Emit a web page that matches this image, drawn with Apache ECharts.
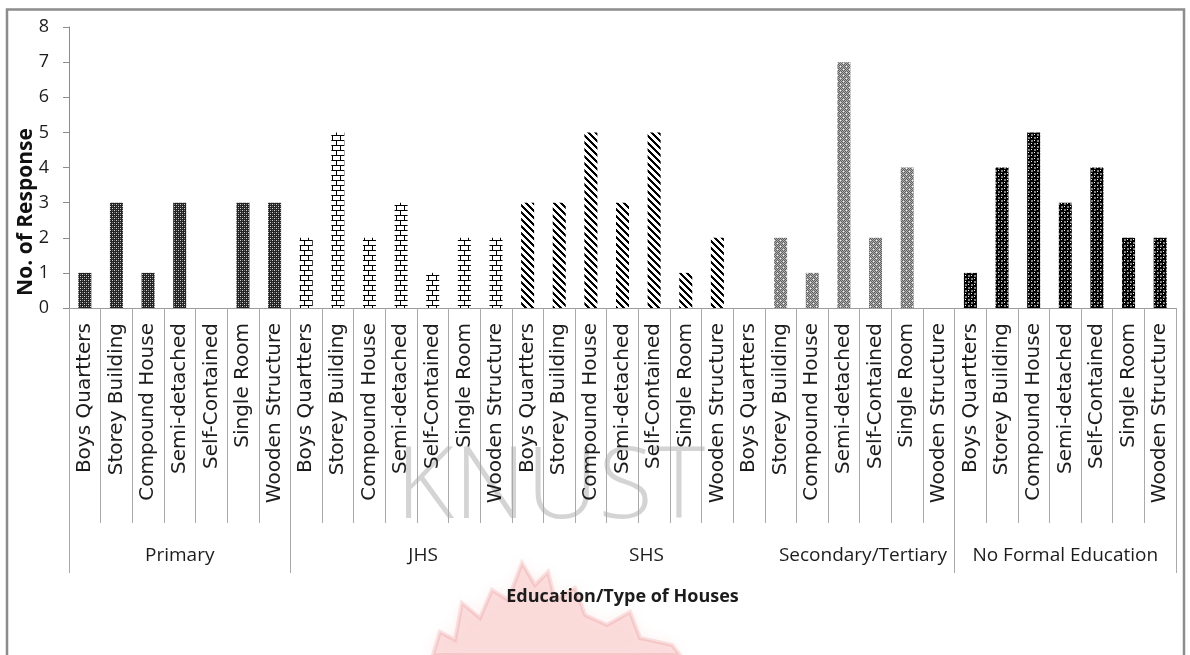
<!DOCTYPE html>
<html>
<head>
<meta charset="utf-8">
<script src="https://cdn.jsdelivr.net/npm/echarts@6/dist/echarts.min.js"></script>
<style>
  html, body { margin: 0; padding: 0; background: #ffffff; }
  #chart { width: 1190px; height: 655px; }
</style>
</head>
<body>
<div id="chart"></div>
<script>
// House types surveyed within each education level
const houseTypes = ['Boys Quartters', 'Storey Building', 'Compound House', 'Semi-detached', 'Self-Contained', 'Single Room', 'Wooden Structure'];
// Education levels (outer category level)
const levels = ['Primary', 'JHS', 'SHS', 'Secondary/Tertiary', 'No Formal Education'];

// Number of responses per house type, one array per education level
const primary     = [1, 3, 1, 3, 0, 3, 3];
const jhs         = [2, 5, 2, 3, 1, 2, 2];
const shs         = [3, 3, 5, 3, 5, 1, 2];
const secTertiary = [0, 2, 1, 7, 2, 4, 0];
const noFormal    = [1, 4, 5, 3, 4, 2, 2];

// Y axis range
const yMin = 0, yMax = 8, yStep = 1;

const groupValues = [primary, jhs, shs, secTertiary, noFormal];

// ---- fill patterns, one per education level ----
function tile(w, h, draw) {
  const c = document.createElement('canvas');
  c.width = w; c.height = h;
  draw(c.getContext('2d'), w, h);
  return c;
}
function pixels(w, h, fn) {
  return tile(w, h, (ctx) => {
    const img = ctx.createImageData(w, h);
    for (let y = 0; y < h; y++) for (let x = 0; x < w; x++) {
      const v = fn(x, y);
      const i = (y * w + x) * 4;
      img.data[i] = img.data[i + 1] = img.data[i + 2] = v;
      img.data[i + 3] = 255;
    }
    ctx.putImageData(img, 0, 0);
  });
}

const patterns = [
  // dark dotted
  pixels(4, 4, (x, y) => {
    if ((x === 0 && y === 0) || (x === 2 && y === 2)) return 215;
    if ((x === 2 && y === 0) || (x === 0 && y === 2)) return 120;
    return 35;
  }),
  // brick
  pixels(8, 10, (x, y) => {
    if (y === 0 || y === 5) return 0;
    if (y < 5 && x === 0) return 0;
    if (y > 5 && x === 4) return 0;
    return 255;
  }),
  // wide downward diagonal
  pixels(7, 7, (x, y) => ((((x - y) % 7) + 7) % 7 < 3 ? 0 : 255)),
  // grey dotted grid
  pixels(6, 6, (x, y) => {
    if ((x === 0 && y === 0) || (x === 3 && y === 3)) return 245;
    return (x + y) % 2 === 0 ? 95 : 175;
  }),
  // spheres
  tile(6, 6, (ctx) => {
    ctx.fillStyle = '#ffffff';
    ctx.fillRect(0, 0, 6, 6);
    ctx.fillStyle = '#000000';
    [[0, 0], [6, 0], [0, 6], [6, 6], [3, 3]].forEach(([cx, cy]) => {
      ctx.beginPath(); ctx.arc(cx, cy, 2.4, 0, Math.PI * 2); ctx.fill();
    });
    ctx.fillStyle = '#ffffff';
    ctx.fillRect(2, 2, 1, 1);
    ctx.fillRect(5, 5, 1, 1);
  })
];

// ---- build category list and bar items ----
const categoryLabels = [];
const barData = [];
groupValues.forEach((vals, g) => {
  vals.forEach((v, k) => {
    categoryLabels.push(houseTypes[k]);
    barData.push({ value: v, itemStyle: { color: { image: patterns[g], repeat: 'repeat' } } });
  });
});

// small horizontal nudges of some outer-level labels
const levelNudge = { 'JHS': 44, 'SHS': 48, 'Secondary/Tertiary': 38 };

const axisGrey = '#9c9c9c';
const textDark = '#1c1c1c';

const chart = echarts.init(document.getElementById('chart'), null, { renderer: 'canvas' });

chart.setOption({
  animation: false,
  backgroundColor: '#ffffff',
  grid: { left: 69, right: 14, top: 27, bottom: 347, containLabel: false },
  xAxis: [
    {
      type: 'category',
      data: categoryLabels,
      boundaryGap: true,
      axisLine: { show: true, onZero: false, lineStyle: { color: axisGrey, width: 1 } },
      axisTick: { show: true, interval: 0, alignWithLabel: false, length: 215, lineStyle: { color: '#a9a9a9', width: 1 } },
      axisLabel: {
        show: true, interval: 0, rotate: 90, margin: 15,
        fontFamily: 'DejaVu Sans', fontSize: 20, color: textDark
      },
      splitLine: { show: false }
    },
    {
      type: 'category',
      data: levels,
      position: 'bottom',
      boundaryGap: true,
      axisLine: { show: false, onZero: false },
      axisTick: { show: true, length: 265, interval: (i) => i !== 2 && i !== 3, alignWithLabel: false, lineStyle: { color: '#a9a9a9', width: 1 } },
      axisLabel: {
        show: true, interval: 0, margin: 238,
        fontFamily: 'Open Sans', fontSize: 19, color: textDark,
        formatter: (v) => (levelNudge[v] ? '{n' + levelNudge[v] + '|' + v + '}' : v),
        rich: Object.fromEntries(Object.values(levelNudge).map((p) => [
          'n' + p, { padding: [0, 0, 0, p], fontFamily: 'Open Sans', fontSize: 19, color: textDark }
        ]))
      },
      name: 'Education/Type of Houses',
      nameLocation: 'middle',
      nameGap: 280,
      nameTextStyle: { fontFamily: 'Open Sans', fontWeight: 'bold', fontSize: 18, color: textDark },
      splitLine: { show: false }
    }
  ],
  yAxis: {
    type: 'value',
    min: yMin, max: yMax, interval: yStep,
    axisLine: { show: true, lineStyle: { color: '#8c8c8c' } },
    axisTick: { show: true, length: 6, lineStyle: { color: '#8c8c8c' } },
    splitLine: { show: false },
    axisLabel: { margin: 20, fontFamily: 'Open Sans', fontSize: 18, color: textDark }
  },
  series: [{
    type: 'bar',
    xAxisIndex: 0,
    barWidth: 13,
    data: barData
  }],
  graphic: [
    // outer frame
    {
      type: 'rect', z: 100,
      shape: { x: 7, y: 9.5, width: 1177, height: 700 },
      style: { fill: 'none', stroke: '#8c8c8c', lineWidth: 2.5 }
    },
    // faint institutional watermark
    {
      type: 'text', z: -10, x: 396, y: 490,
      style: {
        text: 'KNUST', font: '300 100px "Open Sans"', fill: '#d4d4d4',
        align: 'left', verticalAlign: 'middle', textAlign: 'left', textVerticalAlign: 'middle'
      }
    },
    {
      type: 'polygon', z: -10,
      shape: {
        points: [[433, 655], [440, 632], [455, 640], [462, 603], [480, 618], [492, 590], [508, 600],
                 [522, 563], [535, 585], [548, 572], [555, 600], [575, 588], [585, 615], [607, 625],
                 [630, 612], [640, 638], [672, 645], [680, 655]]
      },
      style: {
        fill: 'rgba(240,130,130,0.22)', stroke: 'rgba(225,90,90,0.16)', lineWidth: 4,
        shadowBlur: 14, shadowColor: 'rgba(240,120,120,0.4)'
      }
    },
    // y axis title
    {
      type: 'text', z: 10, x: 26, y: 212, rotation: Math.PI / 2,
      style: {
        text: 'No. of Response', font: 'bold 21px "Open Sans"', fill: '#111111',
        align: 'center', verticalAlign: 'middle', textAlign: 'center', textVerticalAlign: 'middle'
      }
    }
  ]
});
</script>
</body>
</html>
